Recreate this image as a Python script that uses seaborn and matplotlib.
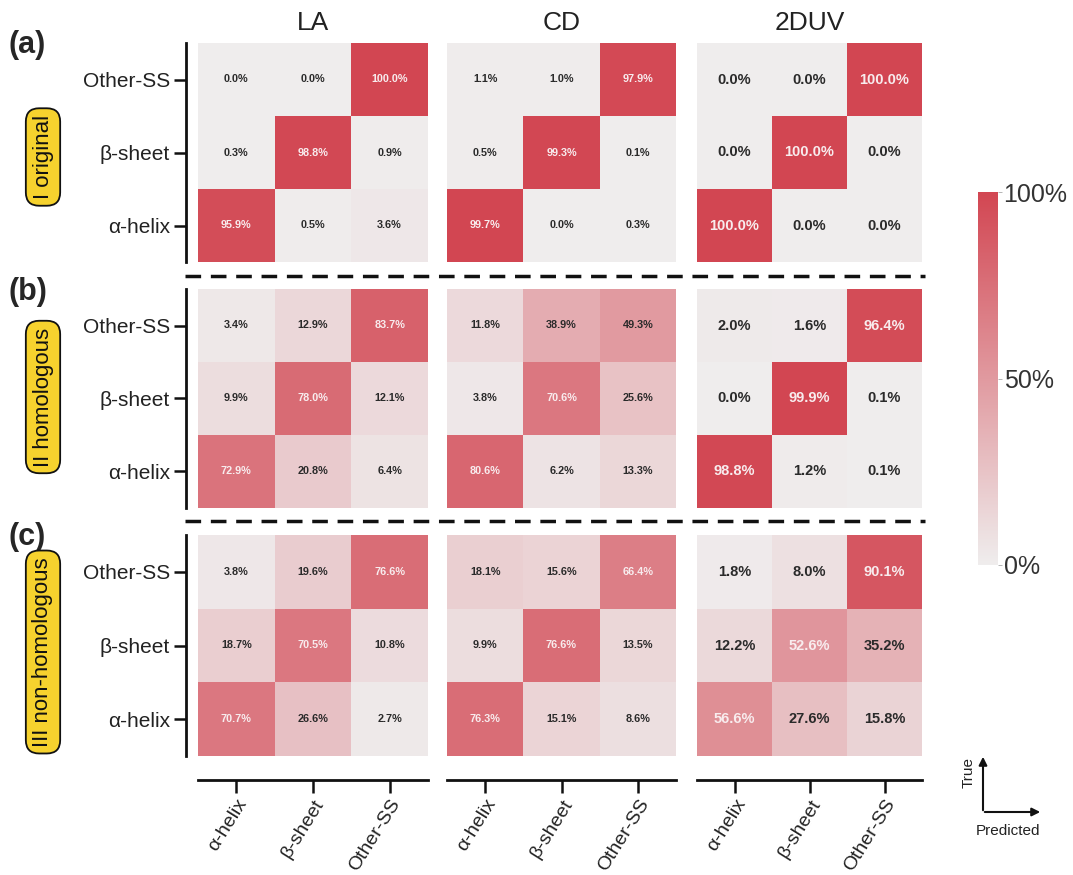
import numpy as np
import seaborn as sns
import matplotlib
matplotlib.use("Agg")
import matplotlib.pyplot as plt
from matplotlib.colors import LinearSegmentedColormap

sns.set_style("white")
plt.rcParams['font.family'] = ['Liberation Sans', 'DejaVu Sans']

# ---------------- data ----------------
classes = ["α-helix", "β-sheet", "Other-SS"]          # true rows / predicted cols
methods = ["LA", "CD", "2DUV"]
datasets = ["I original", "II homologous", "III non-homologous"]
panel_tags = ["(a)", "(b)", "(c)"]
cbar_ticks = [0, 50, 100]
cbar_labels = ["0%", "50%", "100%"]

# rows: true α-helix, β-sheet, Other-SS ; cols: predicted α-helix, β-sheet, Other-SS
la_original = [[95.9, 0.5, 3.6], [0.3, 98.8, 0.9], [0.0, 0.0, 100.0]]
cd_original = [[99.7, 0.0, 0.3], [0.5, 99.3, 0.1], [1.1, 1.0, 97.9]]
uv_original = [[100.0, 0.0, 0.0], [0.0, 100.0, 0.0], [0.0, 0.0, 100.0]]

la_homologous = [[72.9, 20.8, 6.4], [9.9, 78.0, 12.1], [3.4, 12.9, 83.7]]
cd_homologous = [[80.6, 6.2, 13.3], [3.8, 70.6, 25.6], [11.8, 38.9, 49.3]]
uv_homologous = [[98.8, 1.2, 0.1], [0.0, 99.9, 0.1], [2.0, 1.6, 96.4]]

la_nonhom = [[70.7, 26.6, 2.7], [18.7, 70.5, 10.8], [3.8, 19.6, 76.6]]
cd_nonhom = [[76.3, 15.1, 8.6], [9.9, 76.6, 13.5], [18.1, 15.6, 66.4]]
uv_nonhom = [[56.6, 27.6, 15.8], [12.2, 52.6, 35.2], [1.8, 8.0, 90.1]]

grid = [
    [la_original, cd_original, uv_original],
    [la_homologous, cd_homologous, uv_homologous],
    [la_nonhom, cd_nonhom, uv_nonhom],
]

# ---------------- layout ----------------
W, H = 1073, 875
fig = plt.figure(figsize=(W / 100, H / 100), dpi=100)


def rect(x0, y0, x1, y1):
    return [x0 / W, 1 - y1 / H, (x1 - x0) / W, (y1 - y0) / H]


col_x = [(198, 428), (447, 676), (697, 922)]
row_y = [(43, 262), (289, 508), (535, 756)]

cmap = LinearSegmentedColormap.from_list("gr", ["#efeded", "#d24652"])

mesh = None
for i in range(3):
    for j in range(3):
        ax = fig.add_axes(rect(col_x[j][0], row_y[i][0], col_x[j][1], row_y[i][1]))
        mat = np.flipud(np.array(grid[i][j], dtype=float))
        annot = np.array([[f"{v:.1f}%" for v in r] for r in mat])
        sns.heatmap(mat, ax=ax, cmap=cmap, vmin=0, vmax=100, cbar=False,
                    annot=annot, fmt="",
                    annot_kws=dict(fontsize=7.8 if j < 2 else 10.5, fontweight="bold"),
                    xticklabels=classes, yticklabels=classes[::-1])
        mesh = ax.collections[0]
        for t, v in zip(ax.texts, mat.flatten()):
            t.set_color("#f8ecee" if v > 50 else "#2a2a2a")
        ax.tick_params(length=9, width=1.8, color="#111111", direction="out")
        if j == 0:
            ax.spines["left"].set_visible(True)
            ax.spines["left"].set_position(("outward", 9))
            ax.spines["left"].set_linewidth(2)
            ax.spines["left"].set_color("#111111")
            ax.set_yticklabels(classes[::-1], rotation=0, fontsize=15, color="#222222")
            ax.tick_params(axis="y", left=True, pad=2)
        else:
            ax.set_yticks([])
        if i == 2:
            ax.spines["bottom"].set_visible(True)
            ax.spines["bottom"].set_position(("outward", 17))
            ax.spines["bottom"].set_linewidth(2)
            ax.spines["bottom"].set_color("#111111")
            ax.set_xticklabels(classes, rotation=58, ha="right", rotation_mode="anchor",
                               fontsize=14, color="#222222")
            ax.tick_params(axis="x", bottom=True, pad=3)
        else:
            ax.set_xticks([])
        if i == 0:
            ax.set_title(methods[j], fontsize=19, pad=9, color="#222222")

# colorbar
cax = fig.add_axes(rect(978, 192, 998, 565))
cb = fig.colorbar(mesh, cax=cax)
cb.outline.set_visible(False)
cb.set_ticks(cbar_ticks)
cb.set_ticklabels(cbar_labels)
cax.tick_params(labelsize=18, length=3, width=0.6, color="#aaaaaa", pad=1, labelcolor="#333333")

# overlay for annotations
ov = fig.add_axes([0, 0, 1, 1], facecolor="none")
ov.set_xlim(0, W)
ov.set_ylim(H, 0)
ov.axis("off")

for yy in (276, 521):
    ov.plot([185, 925], [yy, yy], color="#111111", lw=2.5, ls=(0, (4.5, 2.8)))

tag_y = [45, 292, 537]
box_y = [157, 397, 652]
for k in range(3):
    ov.text(8, tag_y[k], panel_tags[k], fontsize=22, fontweight="bold", va="center", ha="left")
    ov.text(43, box_y[k], datasets[k], rotation=90, ha="center", va="center", fontsize=16,
            color="#111111", family=["Liberation Sans Narrow", "Liberation Sans", "DejaVu Sans"],
            bbox=dict(boxstyle="round,pad=0.3,rounding_size=0.6", fc="#f6d22e", ec="#111111", lw=1.3))

# True / Predicted icon
ov.annotate("", xy=(983, 754), xytext=(983, 813),
            arrowprops=dict(arrowstyle="-|>", lw=1.5, color="#111111", mutation_scale=12))
ov.annotate("", xy=(1043, 812), xytext=(982, 812),
            arrowprops=dict(arrowstyle="-|>", lw=1.5, color="#111111", mutation_scale=12))
ov.text(969, 772, "True", rotation=90, ha="center", va="center", fontsize=11, color="#222222")
ov.text(1008, 831, "Predicted", ha="center", va="center", fontsize=11, color="#222222")

fig.savefig("out.png", dpi=100)
